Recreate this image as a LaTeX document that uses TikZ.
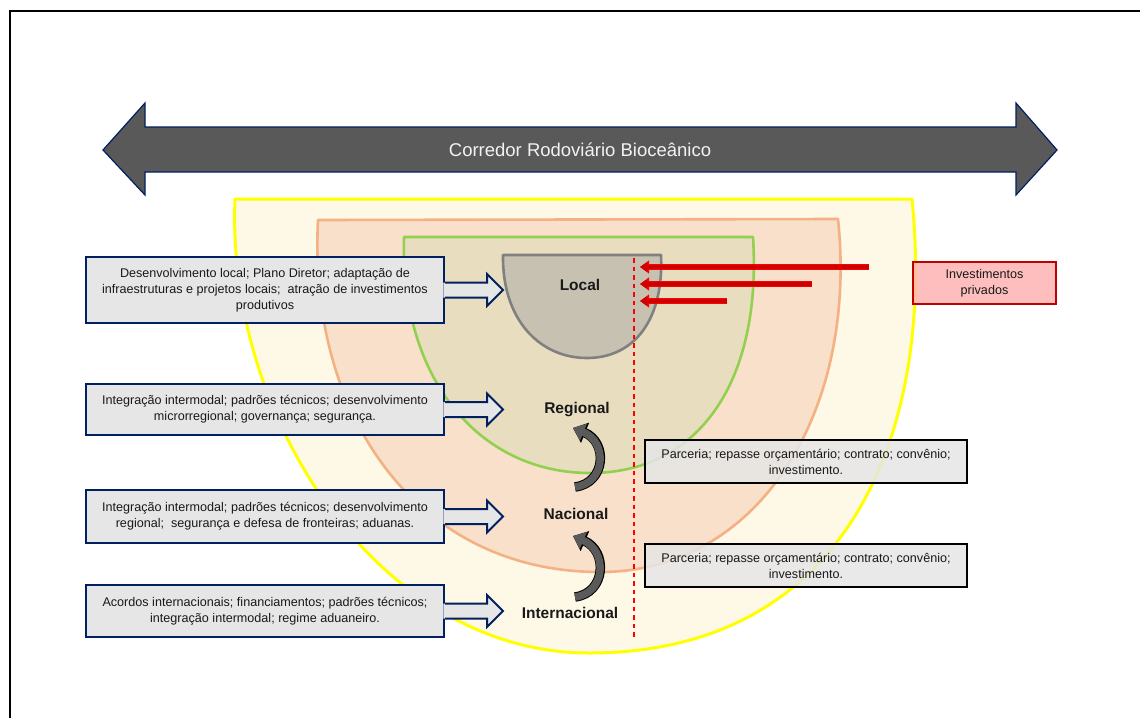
\documentclass[tikz,border=0pt]{standalone}
\usepackage{fontspec}
\setmainfont{Liberation Sans}
\usetikzlibrary{arrows.meta,calc}
\definecolor{ylwline}{HTML}{FFFF00}
\definecolor{ylwfill}{HTML}{FEF8E7}
\definecolor{orgline}{HTML}{F4B183}
\definecolor{orgfill}{HTML}{F8E0CA}
\definecolor{grnline}{HTML}{92D050}
\definecolor{grnfill}{HTML}{E9DDBF}
\definecolor{locline}{HTML}{808080}
\definecolor{locfill}{HTML}{C7C1B1}
\definecolor{navy}{HTML}{002060}
\definecolor{boxfill}{HTML}{E6E6E6}
\definecolor{bigarrow}{HTML}{595959}
\definecolor{redfill}{HTML}{CC0000}
\definecolor{brightred}{HTML}{FF0000}
\definecolor{pinkfill}{HTML}{FFB3B3}
\definecolor{darkred}{HTML}{C00000}
\definecolor{curvegray}{HTML}{5A5A5A}
\definecolor{titletext}{HTML}{F2F2F2}
\newcommand{\calloutarrow}[1]{%
  \fill[boxfill] ($(#1.east)+(-1.6,-7.5)$) -- ($(#1.east)+(42,-7.5)$) -- ($(#1.east)+(42,-16)$) -- ($(#1.east)+(58,0)$) -- ($(#1.east)+(42,16)$) -- ($(#1.east)+(42,7.5)$) -- ($(#1.east)+(-1.6,7.5)$) -- cycle;
  \draw[navy, line width=2pt] ($(#1.east)+(0,-7.5)$) -- ($(#1.east)+(42,-7.5)$) -- ($(#1.east)+(42,-16)$) -- ($(#1.east)+(58,0)$) -- ($(#1.east)+(42,16)$) -- ($(#1.east)+(42,7.5)$) -- ($(#1.east)+(0,7.5)$);}
\begin{document}
\begin{tikzpicture}[x=1pt,y=-1pt,
  txt/.style={font=\fontsize{12.6}{16}\selectfont, align=center, text=black!90},
  callbox/.style={txt, draw=navy, line width=2pt, fill=boxfill, minimum width=358pt, inner sep=0pt},
  parbox/.style={txt, draw=black, line width=2pt, fill=boxfill, fill opacity=0.85, text opacity=1, minimum width=322pt, minimum height=43pt, inner sep=0pt},
  invbox/.style={txt, draw=darkred, line width=2pt, fill=pinkfill, fill opacity=0.85, text opacity=1, minimum width=143pt, minimum height=42pt, inner sep=0pt},
  lvl/.style={font=\fontsize{15.5}{18}\selectfont\bfseries, text=black!90},
  redback/.style={draw=brightred, line width=6.5pt, -{Triangle[length=9pt,width=12.5pt]}},
  redfront/.style={draw=redfill, line width=4.5pt, -{Triangle[length=7pt,width=9pt]}},
  curveback/.style={draw=black, line width=9.5pt, -{Triangle[length=13pt,width=21pt]}},
  curvefront/.style={draw=curvegray, line width=7.5pt, -{Triangle[length=11.3pt,width=17.5pt]}},
  region/.style={line join=round},
]
\useasboundingbox (0,0) rectangle (1140,718);
\fill[white] (0,0) rectangle (1140,718);
% frame
\draw[black, line width=1.2pt] (10,718) -- (10,11) -- (1140,11);

% big double arrow
\filldraw[fill=bigarrow, draw=navy, line width=1.2pt, line join=miter]
  (103,150) -- (145,103) -- (145,127) -- (1016,127) -- (1016,103) -- (1057,150)
  -- (1016,195) -- (1016,172) -- (145,172) -- (145,195) -- cycle;
\node[font=\fontsize{18.5}{20}\selectfont, text=titletext] (title) at (580,150) {Corredor Rodoviário Bioceânico};

% nested regions
\filldraw[region, fill=ylwfill, draw=ylwline, line width=3pt]
  (235,199) .. controls (226,420) and (380,653) .. (589,653)
  .. controls (850,653) and (935,430) .. (912,199) -- cycle;
\filldraw[region, fill=orgfill, draw=orgline, line width=2.6pt]
  (318,220) .. controls (308,420) and (420,572) .. (600,572)
  .. controls (760,572) and (858,410) .. (838,219) -- cycle;
\filldraw[region, fill=grnfill, draw=grnline, line width=2.6pt]
  (404,237) .. controls (400,380) and (480,473) .. (590,473)
  .. controls (700,473) and (762,380) .. (753,237) -- cycle;
\filldraw[region, fill=locfill, draw=locline, line width=2.6pt]
  (503,255) .. controls (502,320) and (540,358) .. (587,358)
  .. controls (634,358) and (664,320) .. (661,255) -- cycle;

% dashed divider
\coordinate (dtop) at (634,258);
\coordinate (dbot) at (634,640);
\draw[brightred, line width=2pt, dash pattern=on 4.5pt off 4pt] (dtop) -- (dbot);

% level labels
\node[lvl] (local) at (580,285) {Local};
\node[lvl] (regional) at (577,410) {Regional};
\node[lvl] (nacional) at (576,514) {Nacional};
\node[lvl] (internacional) at (570,613) {Internacional};

% curved arrows
\coordinate (c1a) at (575,487);
\coordinate (c1b) at (573,428);
\coordinate (c2a) at (575,597);
\coordinate (c2b) at (573,536);
\draw[curveback] (c1a) .. controls (606,483) and (608,442) .. (c1b);
\draw[curvefront] (c1a) .. controls (606,483) and (608,442) .. (c1b);
\draw[curveback] (c2a) .. controls (606,593) and (608,551) .. (c2b);
\draw[curvefront] (c2a) .. controls (606,593) and (608,551) .. (c2b);

% red arrows
\coordinate (r1a) at (869,267); \coordinate (r1b) at (640,267);
\coordinate (r2a) at (812,284); \coordinate (r2b) at (640,284);
\coordinate (r3a) at (727,301); \coordinate (r3b) at (640,301);
\foreach \s/\e in {r1a/r1b, r2a/r2b, r3a/r3b}{
  \draw[redback] (\s) -- (\e);
  \draw[redfront] (\s) -- (\e);
}

% left callouts
\node[callbox, minimum height=66pt] (b1) at (265,290) {Desenvolvimento local; Plano Diretor; adaptação de\\infraestruturas e projetos locais;\ \ atração de investimentos\\produtivos};
\calloutarrow{b1}
\node[callbox, minimum height=51pt] (b2) at (265,409.5) {Integração intermodal; padrões técnicos; desenvolvimento\\microrregional; governança; segurança.};
\calloutarrow{b2}
\node[callbox, minimum height=53pt] (b3) at (265,516.5) {Integração intermodal; padrões técnicos; desenvolvimento\\regional;\ \ segurança e defesa de fronteiras; aduanas.};
\calloutarrow{b3}
\node[callbox, minimum height=52pt] (b4) at (265,611) {Acordos internacionais; financiamentos; padrões técnicos;\\integração intermodal; regime aduaneiro.};
\calloutarrow{b4}

% right boxes
\node[parbox] (p1) at (806,461.5) {Parceria; repasse orçamentário; contrato; convênio;\\investimento.};
\node[parbox] (p2) at (806,565.5) {Parceria; repasse orçamentário; contrato; convênio;\\investimento.};
\node[invbox] (inv) at (984.5,283) {Investimentos\\privados};
\end{tikzpicture}
\end{document}
